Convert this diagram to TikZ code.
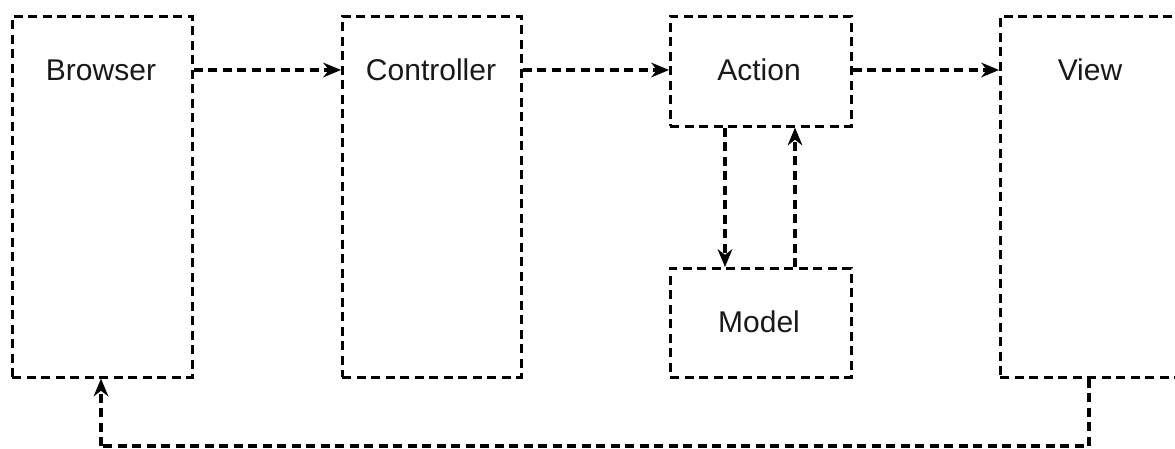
\documentclass[tikz,border=0pt]{standalone}
\usepackage{fontspec}
\setmainfont{Liberation Sans}
\usetikzlibrary{arrows.meta}
\begin{document}
\begin{tikzpicture}[x=1pt,y=-1pt]
\tikzset{
  box/.style={draw=black, line width=2.6pt, dash pattern=on 9pt off 5.5pt, inner sep=0pt, anchor=north west},
  lbl/.style={font=\fontsize{30}{36}\selectfont, text=black!90},
  conn/.style={line width=3.2pt, dash pattern=on 9pt off 5.5pt},
  arr/.style={conn, -{Stealth[length=18pt,width=15pt,line width=0pt]}}}
\useasboundingbox (0,0) rectangle (1175,449);
\begin{scope}
\clip (0,0) rectangle (1175,449);
\node[box, minimum width=180pt, minimum height=361pt] (browser) at (11,15) {};
\node[box, minimum width=179pt, minimum height=361pt] (controller) at (341,15) {};
\node[box, minimum width=181pt, minimum height=110pt] (action) at (669,15) {};
\node[box, minimum width=181pt, minimum height=109pt] (model) at (669,267) {};
\node[box, minimum width=181pt, minimum height=361pt] (view) at (999,15) {};
\end{scope}
\node[lbl] (tb) at (101,70) {Browser};
\node[lbl] (tc) at (431,70) {Controller};
\node[lbl] (ta) at (759,70) {Action};
\node[lbl] (tm) at (759,322) {Model};
\node[lbl] (tv) at (1090,70) {View};
\draw[arr] (browser.east |- tb.center) -- (controller.west |- tb.center);
\draw[arr] (controller.east |- tb.center) -- (action.west |- tb.center);
\draw[arr] (action.east |- tb.center) -- (view.west |- tb.center);
\coordinate (dn) at (725,0);
\coordinate (up) at (795,0);
\draw[arr] (action.south -| dn) -- (model.north -| dn);
\draw[arr] (model.north -| up) -- (action.south -| up);
\coordinate (c1) at (1089,446);
\coordinate (c2) at (101,446);
\draw[conn] (view.south -| c1) -- (c1) -- (c2);
\draw[arr] (c2) -- (browser.south -| c2);
\end{tikzpicture}
\end{document}
